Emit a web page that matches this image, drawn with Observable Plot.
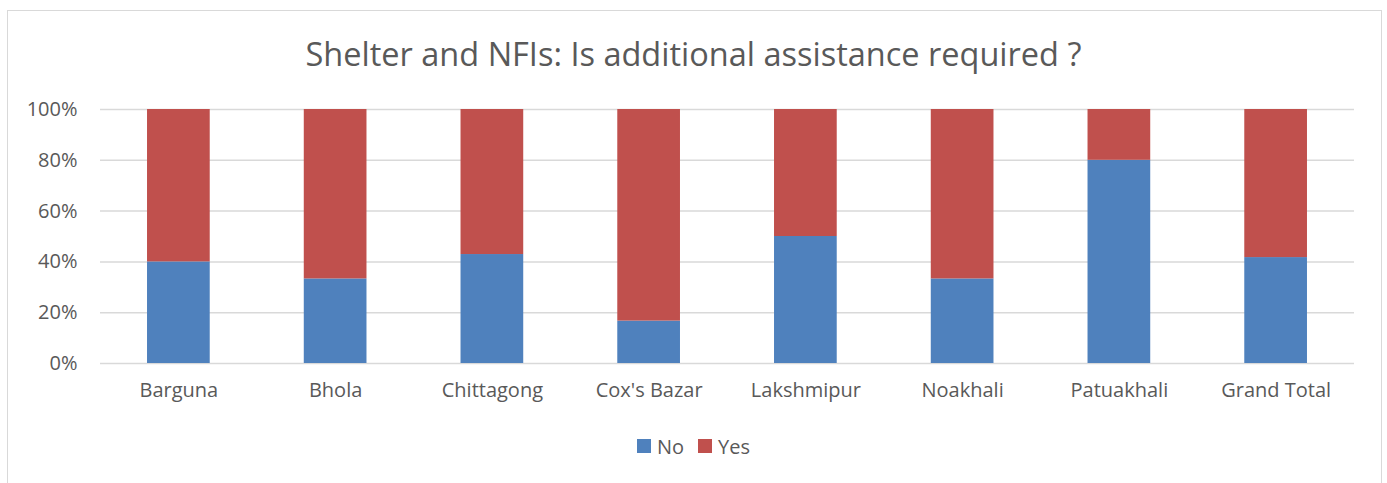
<!DOCTYPE html>
<html>
<head>
<meta charset="utf-8">
<script src="https://cdn.jsdelivr.net/npm/d3@7"></script>
<script src="https://cdn.jsdelivr.net/npm/@observablehq/plot@0.6"></script>
<style>
  body { margin: 0; background: #fff; font-family: "Open Sans", "Liberation Sans", sans-serif; }
  #wrap { position: relative; width: 1387px; height: 483px; overflow: hidden; }
  #frame { position: absolute; left: 7px; top: 10px; width: 1375px; height: 490px; border: 1px solid #d9d9d9; box-sizing: border-box; }
  #title { position: absolute; left: 0; width: 1387px; top: 31px; text-align: center; font-size: 32.5px; color: #595959; }
  #chart { position: absolute; left: 0; top: 0; }
  #legend { position: absolute; left: 0; width: 1387px; top: 432px; text-align: center; font-size: 20px; color: #595959; }
  .item { display: inline-flex; align-items: center; margin: 0 7px; }
  .sw { width: 14px; height: 14px; display: inline-block; margin-right: 6px; }
</style>
</head>
<body>
<div id="wrap">
  <div id="frame"></div>
  <div id="title">Shelter and NFIs: Is additional assistance required ?</div>
  <div id="chart"></div>
  <div id="legend"></div>
</div>
<script>
const categories = ["Barguna", "Bhola", "Chittagong", "Cox's Bazar", "Lakshmipur", "Noakhali", "Patuakhali", "Grand Total"];
const noValues  = [40, 33.3, 42.9, 16.7, 50, 33.3, 80, 41.7];
const yesValues = [60, 66.7, 57.1, 83.3, 50, 66.7, 20, 58.3];
const seriesNames = ["No", "Yes"];
const seriesColors = ["#4F81BD", "#C0504D"];
const yTicks = [0, 20, 40, 60, 80, 100];

const rows = [];
categories.forEach((c, i) => {
  rows.push({category: c, answer: "No", value: noValues[i]});
  rows.push({category: c, answer: "Yes", value: yesValues[i]});
});

const chart = Plot.plot({
  width: 1387,
  height: 420,
  marginTop: 109,
  marginBottom: 57,
  marginLeft: 100,
  marginRight: 33,
  style: { fontSize: "20px", fontFamily: "'Open Sans', 'Liberation Sans', sans-serif", color: "#595959", background: "transparent" },
  x: { domain: categories, paddingInner: 0.6, paddingOuter: 0.3, round: false, label: null, tickSize: 0, tickPadding: 19 },
  y: { domain: [0, 100], ticks: yTicks, tickFormat: d => d + "%", label: null, tickSize: 0, tickPadding: 23 },
  color: { domain: seriesNames, range: seriesColors },
  marks: [
    Plot.ruleY(yTicks, { stroke: "#d9d9d9", strokeWidth: 1.5 }),
    Plot.barY(rows, { x: "category", y: "value", fill: "answer", order: seriesNames })
  ]
});
document.getElementById("chart").appendChild(chart);

const legend = document.getElementById("legend");
seriesNames.forEach((n, i) => {
  const it = document.createElement("span");
  it.className = "item";
  it.innerHTML = `<span class="sw" style="background:${seriesColors[i]}"></span>${n}`;
  legend.appendChild(it);
});
</script>
</body>
</html>
